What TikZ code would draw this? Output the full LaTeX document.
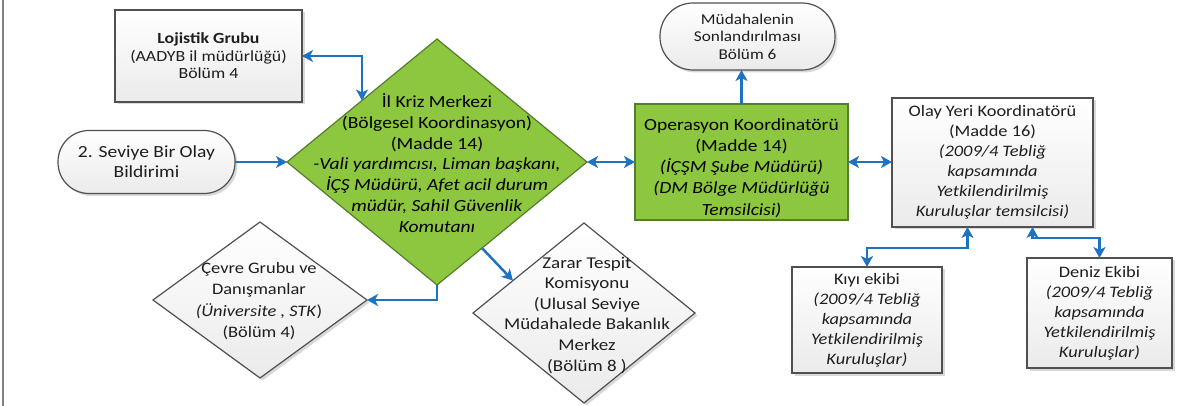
\documentclass[tikz,border=0pt]{standalone}
\usepackage{fontspec}
\setmainfont{Carlito}[FakeStretch=1.15]
\usetikzlibrary{shapes.geometric,arrows.meta,calc,shadows}
\definecolor{arrowblue}{RGB}{31,114,192}
\definecolor{greenfill}{RGB}{141,198,63}
\definecolor{greenline}{RGB}{85,125,45}
\definecolor{boxline}{RGB}{80,80,80}
\definecolor{txt}{RGB}{30,30,30}
\newcommand\myfs[2]{\fontsize{#1}{#2}\selectfont}
\tikzset{
  >={Stealth[length=11pt,width=12pt,inset=3pt]},
  graybox/.style={rectangle, draw=boxline, line width=1.2pt, top color=white, bottom color=gray!16,
    drop shadow={shadow xshift=2.5pt, shadow yshift=-2.5pt, opacity=0.3},
    inner sep=0pt, outer sep=0pt, align=center, text=txt, font=\myfs{16}{20}},
  stadium/.style={graybox, rounded corners=31pt},
  greenbox/.style={rectangle, draw=greenline, fill=greenfill, line width=1.2pt,
    inner sep=0pt, outer sep=0pt},
  greendia/.style={diamond, draw=greenline, fill=greenfill, line width=1.2pt, inner sep=0pt, outer sep=0pt},
  graydia/.style={diamond, draw=boxline, line width=1.2pt, top color=white, bottom color=gray!16,
    drop shadow={shadow xshift=2.5pt, shadow yshift=-2.5pt, opacity=0.3}, inner sep=0pt, outer sep=0pt},
  txtnode/.style={align=center, inner sep=0pt, text=txt, font=\myfs{16}{20}},
  arr/.style={draw=arrowblue, line width=2.5pt}
}
\begin{document}
\begin{tikzpicture}[x=1pt,y=-1pt]
\useasboundingbox (0,0) rectangle (1192,406);
\draw[gray, line width=1.2pt] (3,0) -- (3,406);

% nodes
\node[graybox, minimum width=187pt, minimum height=92pt, font=\myfs{15.5}{17.5}] (loj) at (208.5,56)
  {\textbf{Lojistik Grubu}\\(AADYB il müdürlüğü)\\Bölüm 4};
\node[stadium, minimum width=177pt, minimum height=63pt, font=\myfs{17}{20}] (sev) at (146.5,162)
  {2. Seviye Bir Olay\\Bildirimi};
\node[greendia, minimum width=300pt, minimum height=246pt] (kriz) at (437,162) {};
\node[txtnode, text=black, font=\myfs{17}{20.8}] (kriztext) at (437,163)
  {İl Kriz Merkezi\\(Bölgesel Koordinasyon)\\(Madde 14)\\\textit{-Vali yardımcısı, Liman başkanı,}\\\textit{İÇŞ Müdürü, Afet acil durum}\\\textit{müdür, Sahil Güvenlik}\\\textit{Komutanı}};
\node[greenbox, minimum width=213pt, minimum height=116pt] (oper) at (741.5,162) {};
\node[txtnode, text=black, font=\myfs{17}{21.2}] (opertext) at (741.5,168)
  {Operasyon Koordinatörü\\(Madde 14)\\\textit{(İÇŞM Şube Müdürü)}\\\textit{(DM Bölge Müdürlüğü}\\\textit{Temsilcisi)}};
\node[stadium, minimum width=175pt, minimum height=67pt, rounded corners=33pt, font=\myfs{15}{17.5}] (mud) at (747.5,36.5)
  {Müdahalenin\\Sonlandırılması\\Bölüm 6};
\node[graybox, minimum width=201pt, minimum height=129pt] (olay) at (992.5,162.5)
  {Olay Yeri Koordinatörü\\(Madde 16)\\\textit{(2009/4 Tebliğ}\\\textit{kapsamında}\\\textit{Yetkilendirilmiş}\\\textit{Kuruluşlar temsilcisi)}};
\node[graybox, minimum width=150pt, minimum height=106pt] (kiyi) at (867,320)
  {Kıyı ekibi\\\textit{(2009/4 Tebliğ}\\\textit{kapsamında}\\\textit{Yetkilendirilmiş}\\\textit{Kuruluşlar)}};
\node[graybox, minimum width=145pt, minimum height=110pt] (deniz) at (1099.5,313)
  {Deniz Ekibi\\\textit{(2009/4 Tebliğ}\\\textit{kapsamında}\\\textit{Yetkilendirilmiş}\\\textit{Kuruluşlar)}};
\node[graydia, minimum width=214pt, minimum height=156pt] (cevre) at (260,300) {};
\node[txtnode, font=\myfs{16}{21.5}] (cevretext) at (259,301)
  {Çevre Grubu ve\\Danışmanlar\\\textit{(Üniversite , STK})\\(Bölüm 4)};
\node[graydia, minimum width=222pt, minimum height=180pt] (zarar) at (584,313) {};
\node[txtnode, font=\myfs{16.5}{20.6}] (zarartext) at (587,315)
  {Zarar Tespit\\Komisyonu\\(Ulusal Seviye\\Müdahalede Bakanlık\\Merkez\\(Bölüm 8 )};

% connectors
\draw[arr,<->] (loj.east) -| (kriz.north west);
\draw[arr,->] (sev.east) -- (kriz.west);
\draw[arr,<->] (kriz.east) -- (oper.west);
\draw[arr,->] (oper.north) -- (oper.north |- mud.south);
\draw[arr,<->] (oper.east) -- (oper.east -| olay.west);
\draw[arr,<->] ([xshift=-25pt]olay.south) -- ++(0,21) -| (kiyi.north);
\draw[arr,<->] ([xshift=40pt]olay.south) -- ++(0,11) -| (deniz.north);
\draw[arr,->] (kriz.south) |- (cevre.east);
\draw[arr,->] ($(kriz.south)!0.3!(kriz.east)$) -- ($(zarar.west)!0.36!(zarar.north)$);
\end{tikzpicture}
\end{document}
